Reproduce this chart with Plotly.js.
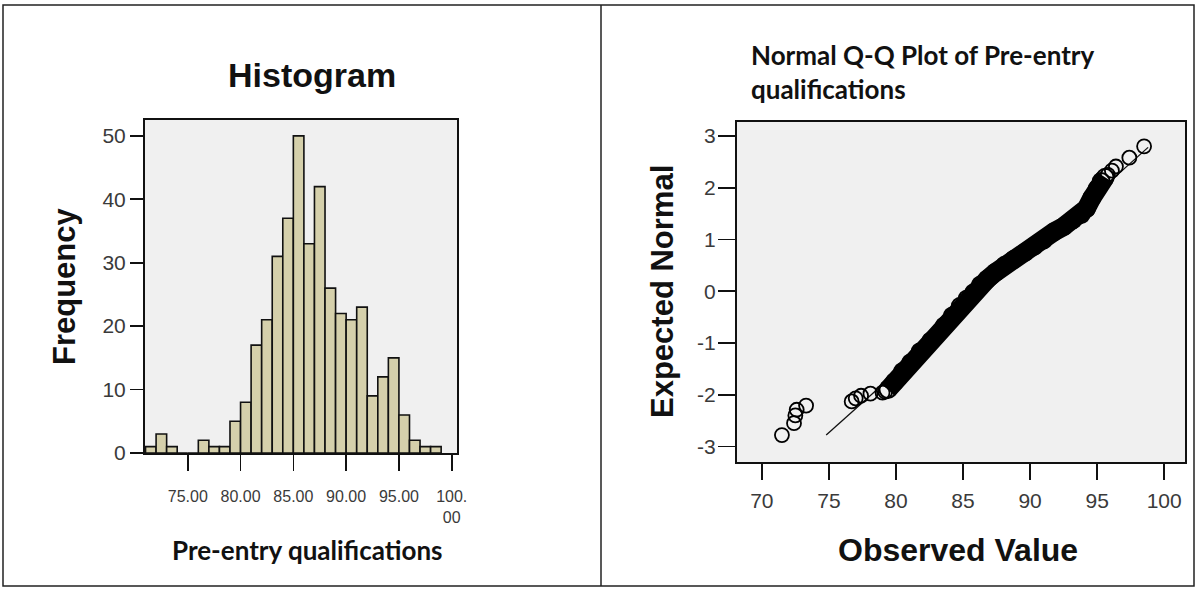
<!DOCTYPE html>
<html>
<head>
<meta charset="utf-8">
<script src="https://cdn.plot.ly/plotly-3.0.1.min.js"></script>
<style>
  html, body { margin: 0; padding: 0; background: #ffffff; }
  #chart { width: 1197px; height: 589px; }
</style>
</head>
<body>
<div id="chart"></div>
<script>
// ---------- Data ----------
// Histogram: bins of width 1 starting at these values
const histBinStart = [71,72,73,74,75,76,77,78,79,80,81,82,83,84,85,86,87,88,89,90,91,92,93,94,95,96,97,98];
const histCounts   = [1, 3, 1, 0, 0, 2, 1, 1, 5, 8,17,21,31,37,50,33,42,26,22,21,23, 9,12,15, 6, 2, 1, 1];
const histTickVals = [75, 80, 85, 90, 95, 100];
const histTickText = ['75.00', '80.00', '85.00', '90.00', '95.00', '100.<br>00'];
const histYTicks   = [0, 10, 20, 30, 40, 50];

// Normal Q-Q plot: isolated points (low tail, lower shoulder, high tail)
const qqLowX   = [71.5, 72.4, 72.5, 72.6, 73.3];
const qqLowZ   = [-2.78, -2.55, -2.40, -2.29, -2.21];
const qqShoulderX = [76.7, 77.0, 77.4, 78.1, 79.0, 79.2];
const qqShoulderZ = [-2.13, -2.07, -2.02, -1.98, -1.96, -1.94];
const qqHighX  = [95.8, 96.1, 96.4, 97.4, 98.5];
const qqHighZ  = [2.25, 2.33, 2.41, 2.58, 2.80];
// dense band of overlapping points (read along its centre)
const qqBandX = [79.4, 79.9, 80.5, 81.1, 81.8, 82.6, 83.6, 84.2, 84.8, 85.3, 85.8, 86.3, 86.8, 87.4,
                 88.1, 88.8, 89.6, 90.3, 91.0, 91.8, 92.5, 93.2, 93.8, 94.2, 94.6, 95.0, 95.3, 95.6];
const qqBandZ = [-1.90, -1.75, -1.55, -1.38, -1.17, -0.96, -0.67, -0.48, -0.29, -0.15, -0.03, 0.12, 0.23, 0.36,
                 0.50, 0.62, 0.75, 0.87, 0.99, 1.15, 1.25, 1.38, 1.48, 1.60, 1.80, 1.98, 2.12, 2.20];
// reference normal line end points
const qqLineX = [74.8, 98.8];
const qqLineZ = [-2.78, 2.78];
const qqXTicks = [70, 75, 80, 85, 90, 95, 100];
const qqYTicks = [-3, -2, -1, 0, 1, 2, 3];
const qqYTickText = ['-3', '-2', '-1', '0', '1', '2', '3'];

// ---------- Layout helpers ----------
const W = 1197, H = 589;
const px = x => x / W;
const py = y => 1 - y / H;

const ARIAL = 'Liberation Sans, Arial, sans-serif';
const CALIBRI = 'Lato, Open Sans, sans-serif';
const tickFont = {family: ARIAL, size: 21, color: '#3a3a3a'};

const histCenters = histBinStart.map(s => s + 0.5);

const traces = [
  {
    type: 'bar', x: histCenters, y: histCounts, width: 1,
    marker: {color: '#d5d0ab', line: {color: '#111111', width: 1.6}},
    xaxis: 'x', yaxis: 'y', hoverinfo: 'x+y', showlegend: false
  },
  {
    type: 'scatter', mode: 'lines', x: qqLineX, y: qqLineZ,
    line: {color: '#111111', width: 1.3},
    xaxis: 'x2', yaxis: 'y2', showlegend: false
  },
  {
    type: 'scatter', mode: 'lines+markers', x: qqBandX, y: qqBandZ,
    line: {color: '#000000', width: 19},
    marker: {symbol: 'circle-open', size: 17, color: '#000000', line: {width: 2, color: '#000000'}},
    xaxis: 'x2', yaxis: 'y2', showlegend: false
  },
  {
    type: 'scatter', mode: 'markers',
    x: qqLowX.concat(qqShoulderX, qqHighX),
    y: qqLowZ.concat(qqShoulderZ, qqHighZ),
    marker: {symbol: 'circle-open', size: 14, color: '#000000', line: {width: 1.8, color: '#000000'}},
    xaxis: 'x2', yaxis: 'y2', showlegend: false
  }
];

const axisCommon = {
  showline: true, linecolor: '#111111', linewidth: 2, mirror: true,
  showgrid: false, zeroline: false, ticks: 'outside', tickcolor: '#111111',
  tickwidth: 1.6, tickfont: tickFont, fixedrange: true
};

const layout = {
  width: W, height: H,
  margin: {l: 0, r: 0, t: 0, b: 0, pad: 0},
  paper_bgcolor: '#ffffff',
  plot_bgcolor: '#f0f0f0',
  showlegend: false,
  bargap: 0,
  xaxis: Object.assign({}, axisCommon, {
    domain: [px(145), px(457)], anchor: 'y',
    range: [70.95, 100.5], tickmode: 'array', tickvals: histTickVals, ticktext: histTickText,
    ticklen: 16, ticklabelstandoff: 12,
    tickfont: {family: ARIAL, size: 16, color: '#3a3a3a'}
  }),
  yaxis: Object.assign({}, axisCommon, {
    domain: [py(453), py(120)], anchor: 'x',
    range: [0, 52.5], tickmode: 'array', tickvals: histYTicks, ticklen: 13,
    ticklabelstandoff: 0
  }),
  xaxis2: Object.assign({}, axisCommon, {
    domain: [px(737), px(1185)], anchor: 'y2',
    range: [68.15, 101.55], tickmode: 'array', tickvals: qqXTicks,
    ticklen: 16, ticklabelstandoff: 3
  }),
  yaxis2: Object.assign({}, axisCommon, {
    domain: [py(462), py(122)], anchor: 'x2',
    range: [-3.3, 3.27], tickmode: 'array', tickvals: qqYTicks, ticktext: qqYTickText,
    ticklen: 17, ticklabelstandoff: -2
  }),
  annotations: [
    {text: 'Histogram', x: px(312), y: py(75), xref: 'paper', yref: 'paper',
     xanchor: 'center', yanchor: 'middle', showarrow: false,
     font: {family: ARIAL, size: 34, color: '#111111', weight: 700}},
    {text: 'Frequency', x: px(65), y: py(286), xref: 'paper', yref: 'paper',
     xanchor: 'center', yanchor: 'middle', showarrow: false, textangle: -90,
     font: {family: ARIAL, size: 31, color: '#111111', weight: 700}},
    {text: 'Pre-entry qualifications', x: px(307), y: py(550), xref: 'paper', yref: 'paper',
     xanchor: 'center', yanchor: 'middle', showarrow: false,
     font: {family: CALIBRI, size: 26, color: '#111111', weight: 700}},
    {text: 'Normal Q-Q Plot of Pre-entry<br>qualifications', x: px(749), y: py(72),
     xref: 'paper', yref: 'paper', xanchor: 'left', yanchor: 'middle', align: 'left',
     showarrow: false,
     font: {family: CALIBRI, size: 26, color: '#111111', weight: 700}},
    {text: 'Expected Normal', x: px(662), y: py(292), xref: 'paper', yref: 'paper',
     xanchor: 'center', yanchor: 'middle', showarrow: false, textangle: -90,
     font: {family: ARIAL, size: 31, color: '#111111', weight: 700}},
    {text: 'Observed Value', x: px(958), y: py(550), xref: 'paper', yref: 'paper',
     xanchor: 'center', yanchor: 'middle', showarrow: false,
     font: {family: ARIAL, size: 32, color: '#111111', weight: 700}}
  ],
  shapes: [
    {type: 'rect', xref: 'paper', yref: 'paper', x0: px(3), x1: px(1194), y0: py(586), y1: py(5),
     line: {color: '#222222', width: 1.5}},
    {type: 'line', xref: 'paper', yref: 'paper', x0: px(601), x1: px(601), y0: py(586), y1: py(5),
     line: {color: '#222222', width: 1.5}}
  ]
};

Plotly.newPlot('chart', traces, layout, {displayModeBar: false, staticPlot: true});
</script>
</body>
</html>
